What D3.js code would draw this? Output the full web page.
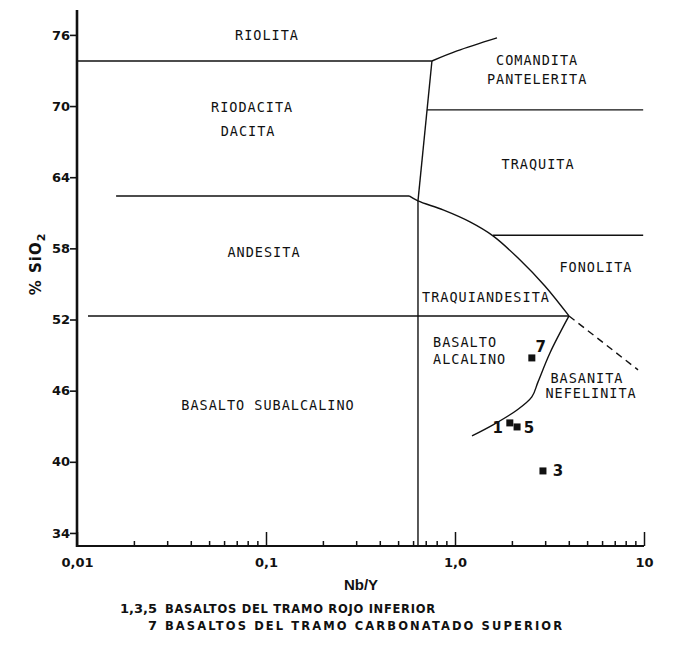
<!DOCTYPE html>
<html><head><meta charset="utf-8">
<script src="https://cdn.jsdelivr.net/npm/d3@7"></script>
<style>body{margin:0;background:#fff}svg{display:block}</style>
</head><body><svg id="c" width="680" height="647"></svg>
<script>
// ---- data ----
const xTickValues = [0.01, 0.1, 1, 10];
const xTickLabels = ["0,01", "0,1", "1,0", "10"];
const xMinorTicks = [0.02,0.03,0.04,0.05,0.06,0.07,0.08,0.09,0.2,0.3,0.4,0.5,0.6,0.7,0.8,0.9,2,3,4,5,6,7,8,9];
const yTickValues = [34, 40, 46, 52, 58, 64, 70, 76];

// field boundaries: [Nb/Y, %SiO2]
const riolitaBase   = [[0.01,73.8],[0.755,73.8]];
const comanditaEdge = [[0.755,73.8],[1.025,74.65],[1.668,75.75]];
const dacitaEdge    = [[0.755,73.8],[0.637,62.0]];
const alkalineEdge  = [[0.637,62.0],[0.637,32.9]];
const andesitaTop   = [[0.0161,62.42],[0.572,62.42]];
const traquitaTop   = [[0.711,69.68],[9.9,69.68]];
const fonolitaTop   = [[1.589,59.1],[9.9,59.1]];
const traquiEdge    = [[0.572,62.42],[0.637,62.0],[0.865,61.24],[1.20,60.23],[1.589,59.05],[2.21,57.02],[2.99,54.83],[4.01,52.3]];
const basaltTop     = [[0.01143,52.3],[4.01,52.3]];
const basanitaEdge  = [[4.01,52.3],[3.18,49.18],[2.75,46.74],[2.55,45.47],[2.13,44.37],[1.589,43.11],[1.23,42.18]];
const fonolitaDash  = [[4.01,52.3],[9.30,47.75]];

// field names
const fieldNames = ["RIOLITA","RIODACITA","DACITA","COMANDITA","PANTELERITA","TRAQUITA","ANDESITA","FONOLITA","TRAQUIANDESITA","BASALTO","ALCALINO","BASANITA","NEFELINITA","BASALTO SUBALCALINO"];
const fieldNbY  = [0.1012,0.0844,0.0804,2.72,2.72,2.75,0.0976,5.57,1.459,0.766,0.766,4.99,5.25,0.1025];
const fieldSiO2 = [76.0,69.93,67.9,73.9,72.29,65.12,57.7,56.43,53.9,50.11,48.67,47.07,45.81,44.8];

// samples
const sampleIds  = ["1","5","3","7"];
const sampleNbY  = [1.95, 2.13, 2.92, 2.55];
const sampleSiO2 = [43.28, 42.94, 39.23, 48.76];

const legendKeys  = ["1,3,5", "7"];
const legendTexts = ["BASALTOS DEL TRAMO ROJO INFERIOR", "BASALTOS DEL TRAMO CARBONATADO SUPERIOR"];

// ---- drawing ----
const svg = d3.select("#c");
const x = d3.scaleLog().domain([0.01, 10]).range([77, 644]);
const y = d3.scaleLinear().domain([32.9, 78.1]).range([546, 10]);

const line = d3.line().x(d => x(d[0])).y(d => y(d[1]));
const curve = d3.line().x(d => x(d[0])).y(d => y(d[1])).curve(d3.curveCatmullRom.alpha(0.5));

const g = svg.append("g").attr("fill","none").attr("stroke","#111").attr("stroke-width",1.4);
[riolitaBase, dacitaEdge, alkalineEdge, andesitaTop, traquitaTop, fonolitaTop, basaltTop].forEach(d => g.append("path").attr("d", line(d)));
[comanditaEdge, traquiEdge, basanitaEdge].forEach(d => g.append("path").attr("d", curve(d)));
g.append("path").attr("d", line(fonolitaDash)).attr("stroke-dasharray","7,5");

// axes
const minorAx = svg.append("g").attr("transform","translate(0,546)")
  .call(d3.axisBottom(x).tickValues(xMinorTicks).tickSize(-5).tickFormat(""));
minorAx.select(".domain").remove();
const majorAx = svg.append("g").attr("transform","translate(0,546)")
  .call(d3.axisBottom(x).tickValues(xTickValues).tickSize(-14).tickPadding(12).tickFormat((d,i) => xTickLabels[i]));
majorAx.select(".domain").remove();
svg.selectAll(".tick line").attr("stroke","#111").attr("stroke-width",1.5);

const yAx = svg.append("g").attr("transform","translate(77,0)")
  .call(d3.axisLeft(y).tickValues(yTickValues).tickSize(7).tickPadding(0));
yAx.select(".domain").remove();
yAx.selectAll(".tick line").attr("stroke","#111").attr("stroke-width",1.6);

svg.selectAll(".tick text").attr("font-family","DejaVu Sans").attr("font-weight","bold")
  .attr("font-size",13).attr("fill","#111");

svg.append("line").attr("x1",x(0.01)).attr("x2",x(10)).attr("y1",y(32.9)).attr("y2",y(32.9))
  .attr("stroke","#111").attr("stroke-width",2.2);
svg.append("line").attr("x1",x(0.01)).attr("x2",x(0.01)).attr("y1",y(32.9)+1).attr("y2",y(78.1))
  .attr("stroke","#111").attr("stroke-width",2.6);

// field labels
const startAligned = new Set([9,10]);
svg.append("g").selectAll("text").data(fieldNames).join("text")
  .attr("x",(d,i) => x(fieldNbY[i]))
  .attr("y",(d,i) => y(fieldSiO2[i]))
  .attr("dy","0.36em")
  .attr("text-anchor",(d,i) => startAligned.has(i) ? "start" : "middle")
  .attr("font-family","DejaVu Sans Mono").attr("font-size",13.5).attr("letter-spacing",1)
  .attr("fill","#111").text(d => d);

// samples
const offs = {"1":[-12,10],"5":[12,6],"3":[15,5],"7":[9,-6]};
const sg = svg.append("g");
sg.selectAll("rect").data(sampleIds).join("rect")
  .attr("x",(d,i) => x(sampleNbY[i]) - 3.5).attr("y",(d,i) => y(sampleSiO2[i]) - 3.5)
  .attr("width",7).attr("height",7).attr("fill","#111");
sg.selectAll("text").data(sampleIds).join("text")
  .attr("x",(d,i) => x(sampleNbY[i]) + offs[d][0])
  .attr("y",(d,i) => y(sampleSiO2[i]) + offs[d][1])
  .attr("text-anchor","middle")
  .attr("font-family","DejaVu Sans").attr("font-weight","bold").attr("font-size",15)
  .attr("fill","#111").text(d => d);

// axis titles
svg.append("text").attr("x",361).attr("y",590).attr("text-anchor","middle")
  .attr("font-family","Liberation Sans").attr("font-weight","bold").attr("font-size",15)
  .attr("fill","#111").text("Nb/Y");

const yt = svg.append("text").attr("transform","translate(41,264) rotate(-90)")
  .attr("text-anchor","middle").attr("font-family","DejaVu Sans").attr("font-weight","bold")
  .attr("font-size",15).attr("letter-spacing",1).attr("fill","#111");
yt.append("tspan").text("% SiO");
yt.append("tspan").attr("font-size",11).attr("dy",4).text("2");

// legend
const legendWidths = [270, 397];
const lg = svg.append("g").attr("font-family","DejaVu Sans").attr("font-weight","bold").attr("font-size",11.5).attr("fill","#111");
lg.selectAll("text.k").data(legendKeys).join("text").attr("class","k")
  .attr("x",157).attr("y",(d,i) => 613 + i*17).attr("text-anchor","end").attr("font-size",13).text(d => d);
lg.selectAll("text.t").data(legendTexts).join("text").attr("class","t")
  .attr("x",165).attr("y",(d,i) => 613 + i*17)
  .attr("textLength",(d,i) => legendWidths[i]).attr("lengthAdjust","spacing").text(d => d);
</script></body></html>
